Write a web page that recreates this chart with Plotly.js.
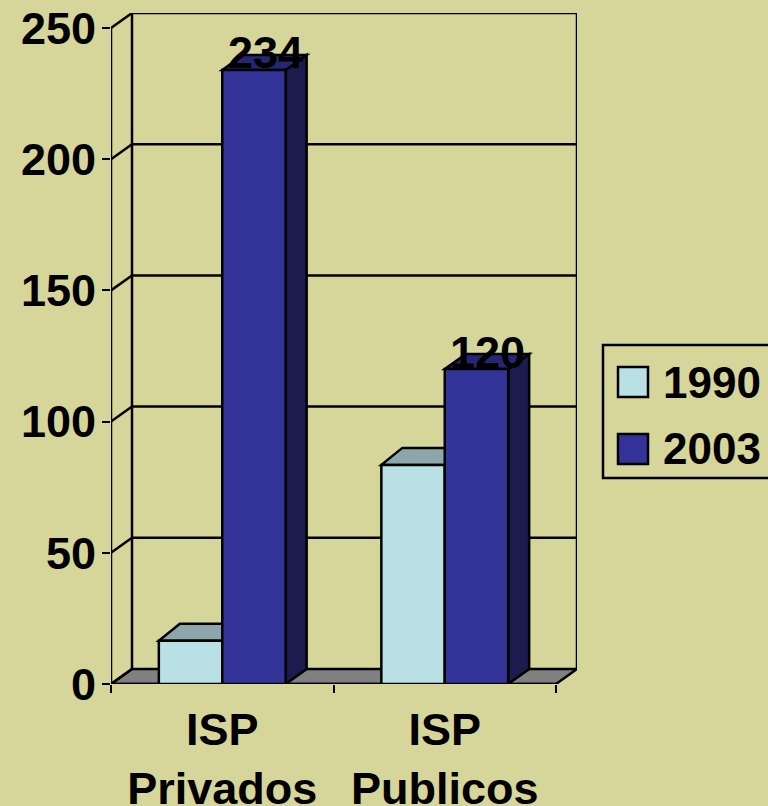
<!DOCTYPE html>
<html>
<head>
<meta charset="utf-8">
<script src="https://cdn.plot.ly/plotly-3.0.1.min.js"></script>
<style>body{margin:0;background:#D6D69B;overflow:hidden}</style>
</head>
<body>
<div id="chart" style="width:768px;height:806px"></div>
<script>
const categories = ["ISP<br>Privados", "ISP<br>Publicos"];
const series_names = ["1990", "2003"];
const vals_1990 = [16.5, 83.5];
const vals_2003 = [234, 120];
const y_ticks = [0, 50, 100, 150, 200, 250];

const cat_pos = categories.map((c, i) => i + 0.5);
const bar_w = 0.285;
// depth of the fake 3d box, in axis units
const dx = 21 / 222.5;
const dy = 15 / 2.624;
const font_fam = "Liberation Sans, Arial, sans-serif";
const bg = "#D6D69B";
const line_w = 2.5;

function poly(pts, fill) {
    let path = "M" + pts.map(p => p[0] + "," + p[1]).join("L") + "Z";
    return {type: "path", path: path, xref: "x", yref: "y", layer: "below",
        fillcolor: fill, line: {color: "#000000", width: line_w}};
}

function seg(x0, y0, x1, y1) {
    return {type: "line", x0: x0, y0: y0, x1: x1, y1: y1, xref: "x", yref: "y",
        layer: "below", line: {color: "#000000", width: line_w}};
}

// walls, floor and grid
let shapes = [];
shapes.push(poly([[0, 0], [2, 0], [2 + dx, dy], [dx, dy]], "#808080"));
shapes.push(seg(0, 0, 0, 250));
shapes.push(seg(0, 0, 2, 0));
shapes.push(seg(dx, dy, dx, 250 + dy));
shapes.push(seg(2 + dx, dy, 2 + dx, 250 + dy));
y_ticks.forEach(v => {
    shapes.push(seg(0, v, dx, v + dy));
    if (v > 0) shapes.push(seg(dx, v + dy, 2 + dx, v + dy));
});

// top and side of each bar
function box_faces(vals, left, top_col, side_col, top_dy) {
    vals.forEach((v, i) => {
        let x0 = cat_pos[i] + left;
        let x1 = x0 + bar_w;
        shapes.push(poly([[x1, 0], [x1 + dx, dy], [x1 + dx, v + top_dy], [x1, v]], side_col));
        shapes.push(poly([[x0, v], [x0 + dx, v + top_dy], [x1 + dx, v + top_dy], [x1, v]], top_col));
    });
}
box_faces(vals_1990, -bar_w, "#8CA6AA", "#6F8B8E", 17 / 2.624);
box_faces(vals_2003, 0, "#262673", "#1B1B4D", dy);

// legend box, pixel positions turned into paper coords
const plot_l = 111, plot_w = 466, plot_t = 13, plot_h = 671;
const px = x => (x - plot_l) / plot_w;
const py = y => 1 - (y - plot_t) / plot_h;

function paper_rect(x0, y0, x1, y1, fill) {
    return {type: "rect", xref: "paper", yref: "paper", x0: px(x0), x1: px(x1), y0: py(y0), y1: py(y1),
        fillcolor: fill, line: {color: "#000000", width: line_w}};
}
shapes.push(paper_rect(603, 345, 775, 478, bg));
shapes.push(paper_rect(618, 367, 648, 397, "#B9E0E4"));
shapes.push(paper_rect(618, 434, 648, 464, "#333399"));

let annotations = [];
series_names.forEach((s, i) => {
    annotations.push({text: s, xref: "paper", yref: "paper", x: px(661), y: py(382 + i * 67),
        xanchor: "left", yanchor: "middle", showarrow: false,
        font: {family: font_fam, size: 44, color: "#000000", weight: "bold"}});
});
// value labels sit on the dark bars only
vals_2003.forEach((v, i) => {
    annotations.push({text: String(v), xref: "x", yref: "y", x: cat_pos[i] + (bar_w + dx) / 2, y: v,
        xanchor: "center", yanchor: "bottom", xshift: 1, yshift: -10.5, showarrow: false,
        font: {family: font_fam, size: 45, color: "#000000", weight: "bold"}});
});

const trace_1990 = {
    name: series_names[0], type: "bar", x: cat_pos, y: vals_1990,
    width: bar_w, offset: -bar_w, cliponaxis: false,
    marker: {color: "#B9E0E4", line: {color: "#000000", width: line_w}}
};
const trace_2003 = {
    name: series_names[1], type: "bar", x: cat_pos, y: vals_2003,
    width: bar_w, offset: 0, cliponaxis: false,
    marker: {color: "#333399", line: {color: "#000000", width: line_w}}
};

const layout = {
    width: 768,
    height: 806,
    margin: {l: plot_l, r: 768 - plot_l - plot_w, t: plot_t, b: 806 - plot_t - plot_h, pad: 0},
    paper_bgcolor: bg,
    plot_bgcolor: "rgba(0,0,0,0)",
    showlegend: false,
    barmode: "overlay",
    xaxis: {
        range: [0, 2 + dx],
        tickmode: "array",
        tickvals: cat_pos,
        ticktext: categories,
        ticks: "",
        showgrid: false,
        zeroline: false,
        showline: false,
        tickangle: 0,
        ticklabelstandoff: 15,
        tickfont: {family: font_fam, size: 45, color: "#000000", weight: "bold"},
        minor: {tickmode: "linear", tick0: 0, dtick: 1, ticks: "outside", ticklen: 8, tickwidth: 2, tickcolor: "#000000", showgrid: false}
    },
    yaxis: {
        range: [0, 250 + dy],
        tickmode: "array",
        tickvals: y_ticks,
        ticks: "outside",
        ticklen: 8,
        tickwidth: 2,
        tickcolor: "#000000",
        showgrid: false,
        zeroline: false,
        showline: false,
        ticklabelstandoff: -3,
        tickfont: {family: font_fam, size: 45, color: "#000000", weight: "bold"}
    },
    shapes: shapes,
    annotations: annotations
};

Plotly.newPlot("chart", [trace_1990, trace_2003], layout, {displayModeBar: false, staticPlot: true});
</script>
</body>
</html>
